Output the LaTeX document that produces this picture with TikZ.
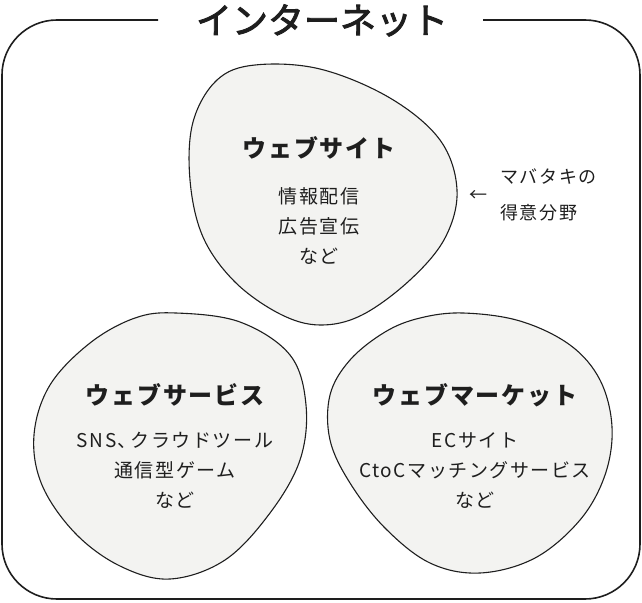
\documentclass[tikz,border=0pt]{standalone}
\usepackage{fontspec}
\newfontfamily\jptitlefont[FakeBold=2.5]{Noto Sans CJK JP}
\newfontfamily\jpheadfont[LetterSpace=8]{Noto Sans CJK JP}
\newfontfamily\jpbodyfont[LetterSpace=8]{Noto Sans CJK JP}
\newfontfamily\jpnotefont[LetterSpace=9]{Noto Sans CJK JP}
\definecolor{blobfill}{RGB}{243,243,241}
\definecolor{ink}{RGB}{30,30,30}
\begin{document}
\begin{tikzpicture}[x=1pt,y=-1pt,
  frame/.style={draw=ink,line width=1.6pt,rounded corners=55pt},
  blob/.style={draw=ink,line width=1.1pt,fill=blobfill},
  titletext/.style={inner sep=0pt,text=ink,font=\jptitlefont\fontsize{36}{40}\selectfont,text height=31.7pt,text depth=4.3pt},
  headtext/.style={inner sep=0pt,text=ink,font=\jpheadfont\bfseries\fontsize{24}{28}\selectfont,text height=21.1pt,text depth=2.9pt},
  bodytext/.style={inner sep=0pt,text=ink,font=\jpbodyfont\fontsize{19}{22}\selectfont,text height=16.7pt,text depth=2.3pt},
  notetext/.style={inner sep=0pt,text=ink,font=\jpnotefont\fontsize{18}{21}\selectfont,text height=15.8pt,text depth=2.2pt}
]
\useasboundingbox (0,0) rectangle (642,602);
% outer frame with gap for title
\coordinate (fl) at (158,20);
\coordinate (fr) at (483,20);
\draw[frame] (fl) -- (2,20) -- (2,599) -- (640,599) -- (640,20) -- (fr);
\node[titletext] (title) at (322,20) {インターネット};

% top blob
\draw[blob] plot[smooth cycle, tension=0.6] coordinates {
  (255,65) (320,69) (390,98) (440,140) (457,190) (445,238) (410,280)
  (362,315) (320,325) (280,314) (235,282) (203,237) (190,180) (193,122) (217,80)};
% bottom-left blob
\draw[blob] plot[smooth cycle, tension=0.6] coordinates {
  (176,313) (240,322) (290,355) (306,405) (300,460) (270,513) (225,560)
  (170,579) (120,566) (75,533) (42,485) (34,435) (50,385) (90,343) (135,318)};
% bottom-right blob
\draw[blob] plot[smooth cycle, tension=0.6] coordinates {
  (463,313) (520,321) (570,345) (600,380) (612,427) (605,475) (580,520)
  (535,558) (480,573) (430,563) (385,528) (350,483) (330,440) (330,395)
  (350,360) (385,332) (420,318)};

% top blob texts
\node[headtext] (siteh) at (319,148) {ウェブサイト};
\node[bodytext] (site1) at (319,196) {情報配信};
\node[bodytext] (site2) at (319,226) {広告宣伝};
\node[bodytext] (site3) at (319,256) {など};

% note
\node[notetext] (arrow) at (478,195) {←};
\node[notetext,anchor=west] (note1) at (500,177) {マバタキの};
\node[notetext,anchor=west] (note2) at (500,213) {得意分野};

% bottom-left texts
\node[headtext] (servh) at (175,395) {ウェブサービス};
\node[bodytext] (serv1) at (175,440) {SNS、\kern-6pt クラウドツール};
\node[bodytext] (serv2) at (175,470) {通信型ゲーム};
\node[bodytext] (serv3) at (175,500) {など};

% bottom-right texts
\node[headtext] (markh) at (475,395) {ウェブマーケット};
\node[bodytext] (mark1) at (475,440) {ECサイト};
\node[bodytext] (mark2) at (475,470) {CtoCマッチングサービス};
\node[bodytext] (mark3) at (475,500) {など};
\end{tikzpicture}
\end{document}
